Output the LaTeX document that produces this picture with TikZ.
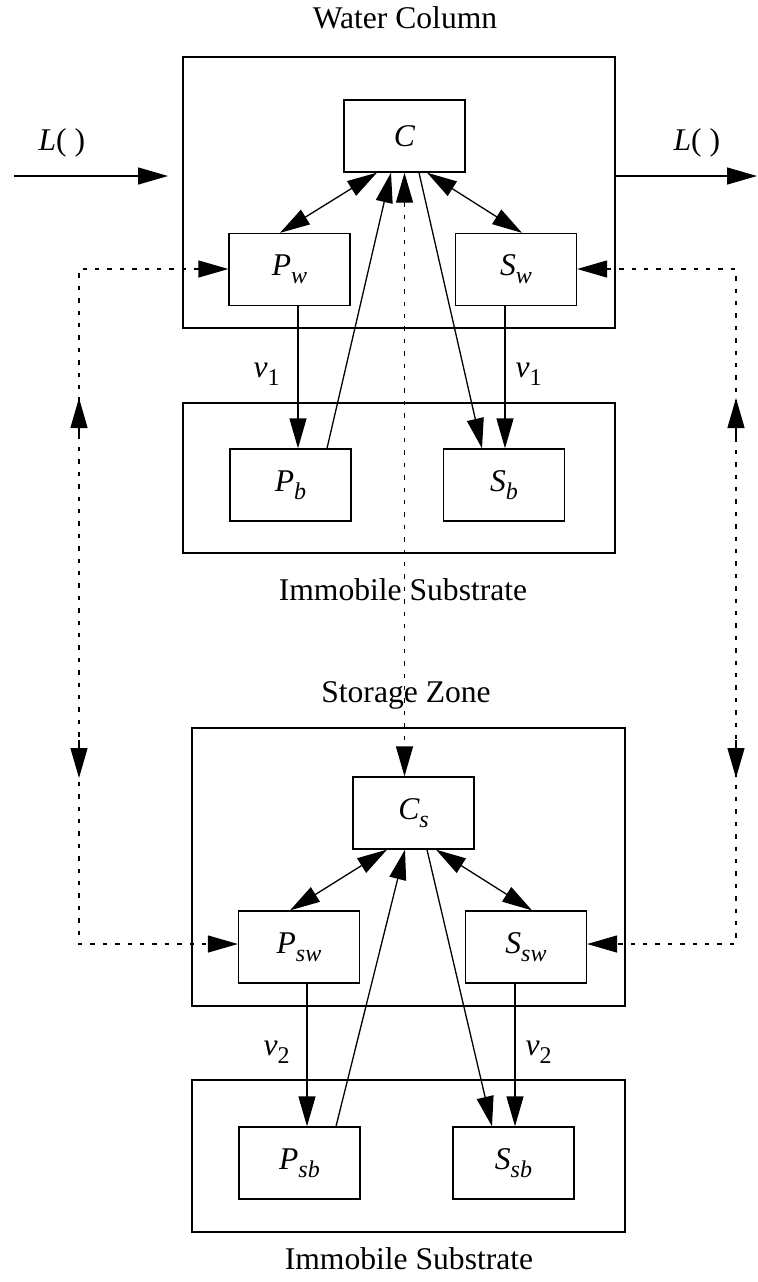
\documentclass[tikz,border=0pt]{standalone}
\usepackage{fontspec}
\setmainfont{Liberation Serif}
\usetikzlibrary{arrows.meta,calc}
% italic symbol with a smaller italic (or upright) index
\newcommand\symit[2]{{\itshape #1}\raisebox{-4pt}{\fontsize{12pt}{12pt}\selectfont\itshape #2}}
\newcommand\symup[2]{{\itshape #1}\raisebox{-4pt}{\fontsize{12pt}{12pt}\selectfont #2}}
\begin{document}
\begin{tikzpicture}[x=0.5pt,y=-0.5pt,
  >={Triangle[length=15pt,width=8.5pt]},
  every path/.style={line width=0.65pt},
  lbl/.style={font=\fontsize{15.8pt}{18pt}\selectfont, inner sep=0pt},
  cell/.style={draw, line width=0.65pt, minimum width=60.5pt, minimum height=36pt,
               inner sep=0pt, font=\fontsize{15.8pt}{18pt}\selectfont},
  zone/.style={draw, line width=0.65pt, inner sep=0pt},
  link/.style={dash pattern=on 2.2pt off 4pt}
]
\useasboundingbox (0,0) rectangle (757,1282);

% compartments
\node[zone, minimum width=216pt, minimum height=135.5pt] (wc)  at (399,192.5) {};
\node[zone, minimum width=216pt, minimum height=75pt]    (is1) at (399,478)   {};
\node[zone, minimum width=216.5pt, minimum height=139pt] (sz)  at (408.5,867) {};
\node[zone, minimum width=216.5pt, minimum height=76pt]  (is2) at (408.5,1156) {};

% zone titles
\node[lbl, anchor=base] (twc)  at (405,28)   {Water Column};
\node[lbl, anchor=base] (tis1) at (403,600)  {Immobile Substrate};
\node[lbl, anchor=base] (tsz)  at (406,702)  {Storage Zone};
\node[lbl, anchor=base] (tis2) at (409,1269) {Immobile Substrate};

% state variables
\node[cell] (C)   at (404.5,136)  {\itshape C};
\node[cell] (Pw)  at (289.5,269.5) {\symit{P}{w}};
\node[cell] (Sw)  at (516,269.5)  {\symit{S}{w}};
\node[cell] (Pb)  at (290.5,485)  {\symit{P}{b}};
\node[cell] (Sb)  at (504,485)    {\symit{S}{b}};
\node[cell] (Cs)  at (413.5,813)  {\symit{C}{s}};
\node[cell] (Psw) at (299,947)    {\symit{P}{sw}};
\node[cell] (Ssw) at (526,947)    {\symit{S}{sw}};
\node[cell] (Psb) at (299.5,1163) {\symit{P}{sb}};
\node[cell] (Ssb) at (513.5,1163) {\symit{S}{sb}};

% loading terms
\node[lbl, anchor=base west] (Lin)  at (38,150)  {{\itshape L}( )};
\node[lbl, anchor=base west] (Lout) at (673,150) {{\itshape L}( )};
\coordinate (inS) at (14,176);
\coordinate (inE) at (168,176);
\coordinate (outE) at (757,176);
\draw[->] (inS) -- (inE);
\draw[->] (wc.east |- outE) -- (outE);

% settling velocity labels
\node[lbl, anchor=base west] (v1a) at (253,377)  {\symup{v}{1}};
\node[lbl, anchor=base west] (v1b) at (515,377)  {\symup{v}{1}};
\node[lbl, anchor=base west] (v2a) at (263,1055) {\symup{v}{2}};
\node[lbl, anchor=base west] (v2b) at (525,1055) {\symup{v}{2}};

% water column exchanges
\draw[<->] ($(Pw.north)+(-9.5,0)$) -- ($(C.south)+(-27.5,0)$);
\draw[->]  ($(Pb.north)+(36.5,0)$) -- ($(C.south)+(-13.5,0)$);
\draw[->]  ($(C.south)+(14.5,0)$) -- ($(Sb.north)+(-22,0)$);
\draw[<->] ($(C.south)+(22.5,0)$) -- ($(Sw.north)+(6,0)$);

% settling in the water column
\coordinate (pws) at ($(Pw.south)+(8.5,0)$);
\coordinate (sws) at ($(Sw.south)+(-11,0)$);
\draw[->] (pws) -- (pws |- Pb.north);
\draw[->] (sws) -- (sws |- Sb.north);

% storage zone exchanges
\draw[<->] ($(Psw.north)+(-9,0)$) -- ($(Cs.south)+(-26.5,0)$);
\draw[->]  ($(Psb.north)+(36.5,0)$) -- ($(Cs.south)+(-8.5,0)$);
\draw[->]  ($(Cs.south)+(13.5,0)$) -- ($(Ssb.north)+(-21.5,0)$);
\draw[<->] ($(Cs.south)+(22.5,0)$) -- ($(Ssw.north)+(6,0)$);

% settling in the storage zone
\coordinate (psws) at ($(Psw.south)+(8,0)$);
\coordinate (ssws) at ($(Ssw.south)+(-11,0)$);
\draw[->] (psws) -- (psws |- Psb.north);
\draw[->] (ssws) -- (ssws |- Ssb.north);

% exchange between main channel and storage zone
\draw[link, <->] (C.south) -- (C.south |- Cs.north);

\coordinate (lt) at (79,269);
\coordinate (lb) at (79,944);
\coordinate (rt) at (736,269);
\coordinate (rb) at (736,944);
\coordinate (pswin) at ($(Psw.west)+(0,-3)$);
\coordinate (sswin) at ($(Ssw.east)+(0,-3)$);
\draw[link, <->] (Pw.west |- lt) -- (lt) -- (lb) -- (pswin);
\draw[link, <->] (Sw.east |- rt) -- (rt) -- (rb) -- (sswin);

\coordinate (lu) at (79,398);
\coordinate (ld) at (79,778);
\coordinate (ru) at (736,398);
\coordinate (rd) at (736,778);
\draw[->] ($(lu)+(0,39)$) -- (lu);
\draw[->] ($(ld)+(0,-38)$) -- (ld);
\draw[->] ($(ru)+(0,39)$) -- (ru);
\draw[->] ($(rd)+(0,-38)$) -- (rd);
\end{tikzpicture}
\end{document}
